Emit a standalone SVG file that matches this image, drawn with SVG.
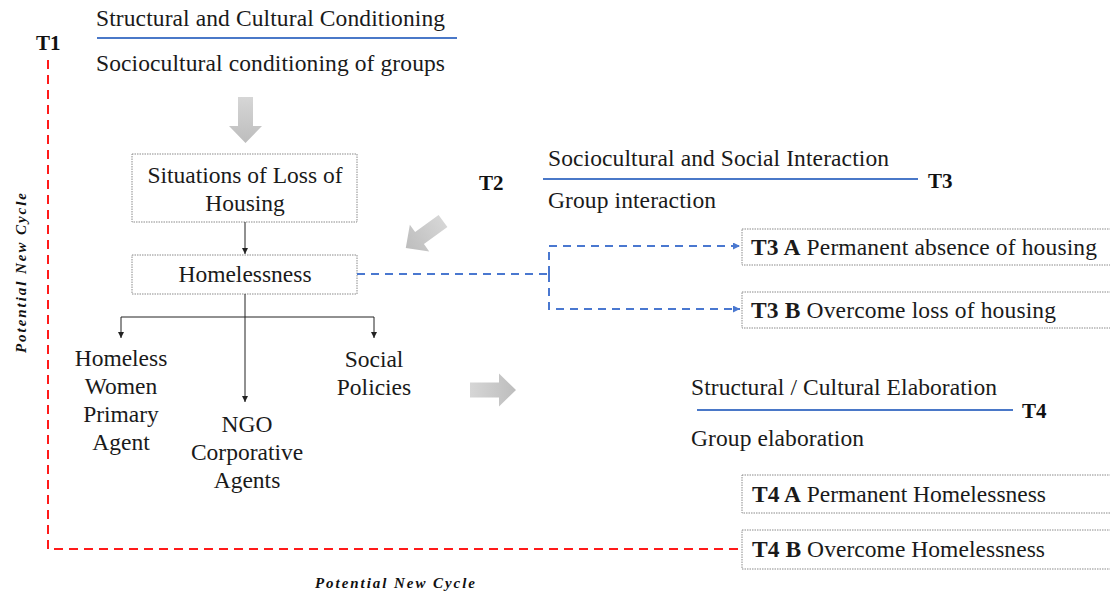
<svg xmlns="http://www.w3.org/2000/svg" width="1110" height="596" viewBox="0 0 1110 596">
<defs>
<style>
text{font-family:'Liberation Serif','Times New Roman',Times,serif}
.t{font-size:23.5px;fill:#1a1a1a}
.b{font-size:21px;font-weight:bold;fill:#111}
.bi{font-size:15px;font-weight:bold;font-style:italic;fill:#111}
.box{fill:#fff;stroke:#8a8a8a;stroke-width:1;stroke-dasharray:1.5 1}
.rule{stroke:#4a78c8;stroke-width:2;fill:none}
.blk{stroke:#222;stroke-width:1;fill:none}
.bd{stroke:#4a78d0;stroke-width:2;stroke-dasharray:8 6;fill:none}
.rd{stroke:#ff1a1a;stroke-width:2;stroke-dasharray:9 6;fill:none}
</style>
<marker id="ah" viewBox="0 0 10 10" refX="10" refY="5" markerWidth="6" markerHeight="6" markerUnits="userSpaceOnUse" orient="auto"><path d="M0,0 L10,5 L0,10 z" fill="#222"/></marker>
<marker id="bh" viewBox="0 0 10 10" refX="10" refY="5" markerWidth="7" markerHeight="7" markerUnits="userSpaceOnUse" orient="auto"><path d="M0,0 L10,5 L0,10 z" fill="#4a78d0"/></marker>
<linearGradient id="gg" x1="0" y1="0" x2="1" y2="0"><stop offset="0" stop-color="#d6d6d6"/><stop offset="1" stop-color="#bdbdbd"/></linearGradient>
<path id="fat" d="M0,-7.5 H29 V-16.5 L46,0 L29,16.5 V7.5 H0 z"/>
</defs>
<rect width="1110" height="596" fill="#fff"/>

<g id="t1-header">
<text class="b" x="36" y="50">T1</text>
<text class="t" x="96" y="26" textLength="349" lengthAdjust="spacing">Structural and Cultural Conditioning</text>
<line class="rule" x1="97" y1="38" x2="457" y2="38"/>
<text class="t" x="96" y="71" textLength="349" lengthAdjust="spacing">Sociocultural conditioning of groups</text>
</g>

<g id="gray-arrows" fill="url(#gg)">
<use href="#fat" transform="translate(245.5,97) rotate(90)"/>
<use href="#fat" transform="translate(443,221) rotate(144)"/>
<use href="#fat" transform="translate(470,390)"/>
</g>

<g id="situations">
<rect class="box" x="132" y="154" width="225" height="68"/>
<text class="t" x="245" y="183" text-anchor="middle">Situations of Loss of</text>
<text class="t" x="245" y="211" text-anchor="middle">Housing</text>
</g>

<g id="homelessness">
<rect class="box" x="132" y="255" width="225" height="39"/>
<text class="t" x="245" y="282" text-anchor="middle">Homelessness</text>
</g>

<g id="t2"><text class="b" x="479" y="190">T2</text></g>

<g id="t3-header">
<text class="t" x="548" y="166" textLength="341" lengthAdjust="spacing">Sociocultural and Social Interaction</text>
<line class="rule" x1="543" y1="179" x2="918" y2="179"/>
<text class="b" x="928" y="188">T3</text>
<text class="t" x="548" y="208" textLength="168" lengthAdjust="spacing">Group interaction</text>
</g>

<g id="t3a">
<rect class="box" x="742" y="229" width="380" height="36"/>
<text class="t" x="751" y="255" textLength="346" lengthAdjust="spacing"><tspan font-weight="bold">T3 A</tspan> Permanent absence of housing</text>
</g>
<g id="t3b">
<rect class="box" x="742" y="292" width="380" height="36"/>
<text class="t" x="751" y="318" textLength="305" lengthAdjust="spacing"><tspan font-weight="bold">T3 B</tspan> Overcome loss of housing</text>
</g>

<g id="agents">
<text class="t" text-anchor="middle" x="121" y="366">Homeless</text>
<text class="t" text-anchor="middle" x="121" y="394">Women</text>
<text class="t" text-anchor="middle" x="121" y="422">Primary</text>
<text class="t" text-anchor="middle" x="121" y="450">Agent</text>
</g>
<g id="ngo">
<text class="t" text-anchor="middle" x="247" y="432">NGO</text>
<text class="t" text-anchor="middle" x="247" y="460">Corporative</text>
<text class="t" text-anchor="middle" x="247" y="488">Agents</text>
</g>
<g id="policies">
<text class="t" text-anchor="middle" x="374" y="367">Social</text>
<text class="t" text-anchor="middle" x="374" y="395">Policies</text>
</g>

<g id="t4-header">
<text class="t" x="691" y="395" textLength="306" lengthAdjust="spacing">Structural / Cultural Elaboration</text>
<line class="rule" x1="697" y1="410" x2="1013" y2="410"/>
<text class="b" x="1022" y="418">T4</text>
<text class="t" x="691" y="446" textLength="173" lengthAdjust="spacing">Group elaboration</text>
</g>

<g id="t4a">
<rect class="box" x="742" y="475" width="380" height="38"/>
<text class="t" x="752" y="502" textLength="294" lengthAdjust="spacing"><tspan font-weight="bold">T4 A</tspan> Permanent Homelessness</text>
</g>
<g id="t4b">
<rect class="box" x="742" y="530" width="380" height="39"/>
<text class="t" x="752" y="557" textLength="293" lengthAdjust="spacing"><tspan font-weight="bold">T4 B</tspan> Overcome Homelessness</text>
</g>

<g id="cycle-labels">
<text class="bi" transform="translate(26,273) rotate(-90)" text-anchor="middle" textLength="160" lengthAdjust="spacing">Potential New Cycle</text>
<text class="bi" x="315" y="588" textLength="160" lengthAdjust="spacing">Potential New Cycle</text>
</g>

<g id="connectors">
<line class="blk" x1="245" y1="222" x2="245" y2="254" marker-end="url(#ah)"/>
<line class="blk" x1="245" y1="294" x2="245" y2="402" marker-end="url(#ah)"/>
<path class="blk" d="M121,317 H374"/>
<line class="blk" x1="121" y1="317" x2="121" y2="338" marker-end="url(#ah)"/>
<line class="blk" x1="374" y1="317" x2="374" y2="338" marker-end="url(#ah)"/>
<path class="bd" d="M357,274 H549"/>
<path class="bd" d="M549,274 V246 H740" marker-end="url(#bh)"/>
<path class="bd" d="M549,274 V309 H740" marker-end="url(#bh)"/>
<path class="rd" d="M48,60 V549 H742"/>
</g>
</svg>
